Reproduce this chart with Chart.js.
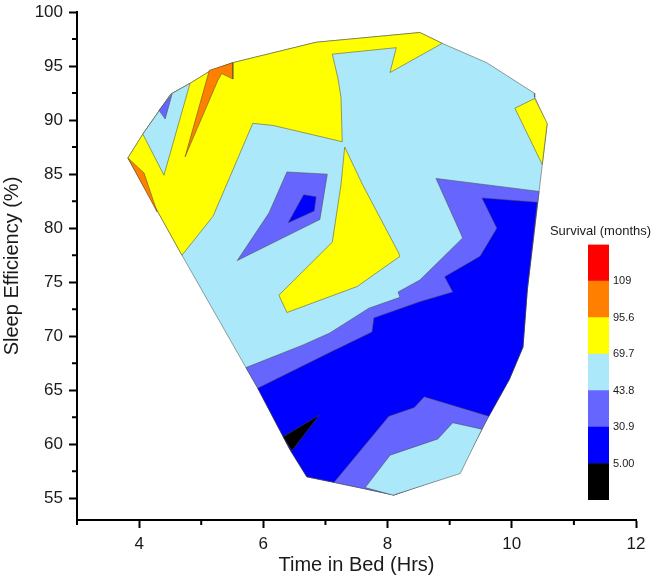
<!DOCTYPE html>
<html>
<head>
<meta charset="utf-8">
<script src="https://cdn.jsdelivr.net/npm/chart.js@4.4.1/dist/chart.umd.min.js"></script>
<style>
  body { margin: 0; background: #fff; }
  #wrap { position: relative; width: 654px; height: 580px; }
  #main { position: absolute; left: 0; top: 0; }
  #bar { position: absolute; left: 547px; top: 222px; }
</style>
</head>
<body>
<div id="wrap">
  <canvas id="main" width="654" height="580"></canvas>
  <canvas id="bar" width="107" height="290"></canvas>
</div>
<script>
// contour bands (low -> high) and their boundary labels
const bandColors = ['#000000', '#0000FF', '#6666FF', '#ABE8F9', '#FFFF00', '#FF8000', '#FF0000'];
const bandLabels = ['5.00', '30.9', '43.8', '69.7', '95.6', '109'];

// axis ticks
const xTicks = [4, 6, 8, 10, 12];
const xMinor = [3, 5, 7, 9, 11];
const yTicks = [55, 60, 65, 70, 75, 80, 85, 90, 95, 100];
const yMinor = [57.5, 62.5, 67.5, 72.5, 77.5, 82.5, 87.5, 92.5, 97.5];

// contour regions, [time in bed, sleep efficiency] vertices
const hull = [[3.82,86.5],[4.06,88.7],[4.51,92.4],[4.82,93.4],[5.16,94.6],[5.50,95.3],[6.85,97.2],[8.52,98.1],[8.88,97.1],[9.60,95.3],[10.36,92.5],[10.37,92.1],[10.57,89.6],[10.49,85.8],[10.44,83.4],[10.25,74.3],[10.18,69.0],[9.96,66.0],[9.63,62.6],[9.52,61.4],[9.15,57.4],[8.10,55.3],[7.62,55.9],[7.12,56.5],[6.70,57.0],[6.43,59.5],[5.91,65.2],[5.72,67.1],[4.69,77.5]];
const yellowMain = [[4.69,77.5],[5.19,81.1],[5.83,89.7],[6.16,89.5],[7.27,88.0],[7.25,92.1],[7.20,93.9],[7.11,96.1],[8.14,96.7],[8.04,94.4],[8.88,97.1],[8.52,98.1],[6.85,97.2],[5.50,95.3],[5.16,94.6],[4.82,93.4],[4.51,92.4],[4.06,88.7],[3.82,86.5]];
const lightStrip = [[4.06,88.7],[4.51,92.4],[4.82,93.4],[4.40,84.9]];
const blueSpeck = [[4.32,90.9],[4.53,92.4],[4.42,90.1]];
const orangeSpike = [[4.74,86.6],[5.13,94.6],[5.51,95.3],[5.51,93.8],[5.33,94.3],[5.27,93.7]];
const orangeEdge = [[3.82,86.5],[4.08,85.1],[4.29,81.5]];
const yellowBend = [[7.31,87.5],[7.25,84.0],[7.11,78.7],[6.25,73.8],[6.38,72.2],[7.51,74.6],[8.20,77.4],[8.17,77.8],[7.60,84.0]];
const blueDiamond = [[6.38,85.2],[7.03,85.0],[6.91,80.8],[5.58,77.0],[6.09,81.4]];
const darkSpeck = [[6.65,83.1],[6.85,82.9],[6.82,81.6],[6.40,80.5]];
const yellowRight = [[10.05,91.1],[10.37,92.0],[10.57,89.7],[10.49,85.9]];
const blueLower = [[5.72,67.1],[6.64,69.2],[7.07,70.3],[7.70,72.6],[8.20,73.6],[8.17,74.1],[8.52,75.2],[9.21,79.1],[8.78,84.6],[10.44,83.4],[10.25,74.3],[10.18,69.0],[9.96,66.0],[9.63,62.6],[9.52,61.4],[9.15,57.4],[8.10,55.3],[7.62,55.9],[7.12,56.5],[6.70,57.0],[6.43,59.5],[5.91,65.2]];
const darkLower = [[5.91,65.2],[7.07,68.5],[7.75,70.4],[7.78,71.7],[8.52,73.2],[9.05,74.1],[8.92,75.5],[9.49,77.4],[9.76,80.0],[9.52,82.8],[10.41,82.4],[10.25,74.3],[10.18,69.0],[9.96,66.0],[9.63,62.6],[8.59,64.4],[8.43,63.4],[8.02,62.6],[7.14,56.5],[6.70,57.0],[6.43,59.5]];
const lightLower = [[9.52,61.4],[9.05,62.0],[8.81,60.5],[8.04,59.0],[7.64,56.0],[8.09,55.3],[9.17,57.3]];
const blackSpeck = [[6.32,60.7],[6.90,62.7],[6.46,59.4]];

// drawing order: first is painted at the bottom
const layers = [
  { pts: hull, band: 3 },
  { pts: yellowMain, band: 4 },
  { pts: lightStrip, band: 3 },
  { pts: blueSpeck, band: 2 },
  { pts: orangeSpike, band: 5 },
  { pts: orangeEdge, band: 5 },
  { pts: yellowBend, band: 4 },
  { pts: blueDiamond, band: 2 },
  { pts: darkSpeck, band: 1 },
  { pts: yellowRight, band: 4 },
  { pts: blueLower, band: 2 },
  { pts: darkLower, band: 1 },
  { pts: lightLower, band: 3 },
  { pts: blackSpeck, band: 0 },
];

const FONT = "'Liberation Sans', Arial, sans-serif";
const TEXT = '#1a1a1a';

const minorTicks = {
  id: 'minorTicks',
  afterDraw(chart) {
    const { ctx, scales: { x, y }, chartArea: a } = chart;
    ctx.save();
    ctx.strokeStyle = '#000';
    ctx.lineWidth = 2;
    ctx.beginPath();
    xMinor.forEach(v => { const p = x.getPixelForValue(v); ctx.moveTo(p, a.bottom); ctx.lineTo(p, a.bottom + 5); });
    yMinor.forEach(v => { const p = y.getPixelForValue(v); ctx.moveTo(a.left, p); ctx.lineTo(a.left - 5, p); });
    ctx.stroke();
    ctx.restore();
  }
};

const datasets = layers.map((l, i) => ({
  data: l.pts.concat([l.pts[0]]).map(([x, y]) => ({ x, y })),
  showLine: true,
  fill: 'shape',
  backgroundColor: bandColors[l.band],
  borderColor: 'rgba(70,70,60,0.85)',
  borderWidth: 0.6,
  pointRadius: 0,
  tension: 0,
  order: layers.length - i,
}));

new Chart(document.getElementById('main'), {
  type: 'scatter',
  data: { datasets },
  plugins: [minorTicks],
  options: {
    responsive: false,
    animation: false,
    events: [],
    layout: { padding: { top: 12, right: 18, left: 0, bottom: 0 } },
    plugins: { legend: { display: false }, tooltip: { enabled: false } },
    scales: {
      x: {
        type: 'linear', min: 3, max: 12,
        afterBuildTicks: s => { s.ticks = xTicks.map(v => ({ value: v })); },
        afterFit: s => { s.height = 60; s.paddingLeft = 0; s.paddingRight = 0; },
        ticks: { color: TEXT, font: { family: FONT, size: 17 }, padding: 6, maxRotation: 0 },
        grid: { drawOnChartArea: false, tickLength: 8, tickWidth: 2, tickColor: '#000' },
        border: { color: '#000', width: 2 },
        title: { display: true, text: 'Time in Bed (Hrs)', color: TEXT, font: { family: FONT, size: 20 }, padding: { top: 0, bottom: 3 } }
      },
      y: {
        type: 'linear', min: 53, max: 100,
        afterBuildTicks: s => { s.ticks = yTicks.map(v => ({ value: v })); },
        afterFit: s => { s.width = 77; s.paddingTop = 0; s.paddingBottom = 0; },
        ticks: { color: TEXT, font: { family: FONT, size: 17 }, padding: 6 },
        grid: { drawOnChartArea: false, tickLength: 8, tickWidth: 2, tickColor: '#000' },
        border: { color: '#000', width: 2 },
        title: { display: true, text: 'Sleep Efficiency (%)', color: TEXT, font: { family: FONT, size: 20 }, padding: 0 }
      }
    }
  }
});

// colour scale
new Chart(document.getElementById('bar'), {
  type: 'bar',
  data: {
    labels: [''],
    datasets: bandColors.map(c => ({
      data: [1], backgroundColor: c, borderWidth: 0,
      barPercentage: 1, categoryPercentage: 1, xAxisID: 'x', yAxisID: 'y'
    }))
  },
  options: {
    responsive: false,
    animation: false,
    events: [],
    layout: { padding: { left: 0, top: 0, right: 0, bottom: 12 } },
    plugins: {
      legend: { display: false },
      tooltip: { enabled: false },
      title: { display: true, text: 'Survival (months)', color: TEXT, font: { family: FONT, size: 13, weight: 'normal' }, padding: { top: 2, bottom: 5 } }
    },
    scales: {
      x: { display: false, stacked: true },
      y: {
        stacked: true, min: 0, max: 7, position: 'right',
        afterBuildTicks: s => { s.ticks = bandLabels.map((t, i) => ({ value: i + 1 })); },
        afterFit: s => { s.width = 45; },
        ticks: { callback: v => bandLabels[v - 1], color: TEXT, font: { family: FONT, size: 11 }, padding: 4 },
        grid: { display: false, drawTicks: false },
        border: { display: false }
      },
      spacer: {
        type: 'linear', position: 'left', display: true, min: 0, max: 1,
        afterFit: s => { s.width = 41; },
        ticks: { display: false },
        grid: { display: false, drawTicks: false },
        border: { display: false }
      }
    }
  }
});
</script>
</body>
</html>
